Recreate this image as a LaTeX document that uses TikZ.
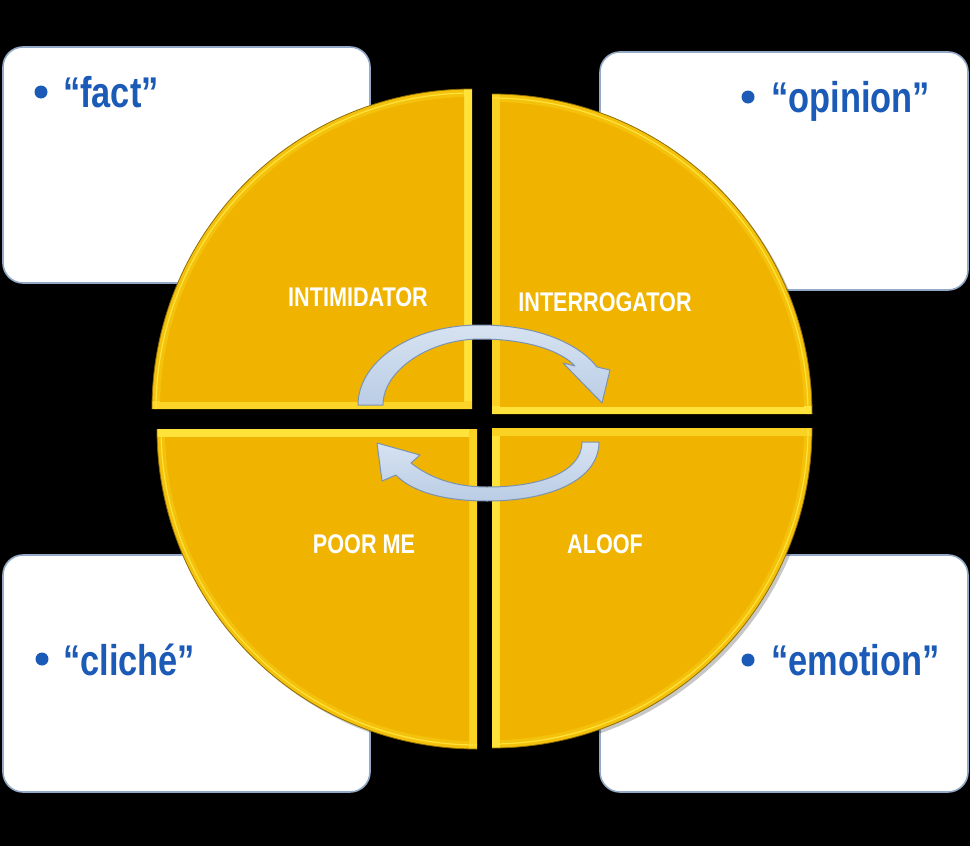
\documentclass[tikz,border=0pt]{standalone}
\usepackage{fontspec}
\setmainfont{Liberation Sans}
\newfontfamily\bulfont[FakeStretch=0.8]{Liberation Sans}
\newfontfamily\labfont[FakeStretch=0.8]{Liberation Sans}
\definecolor{goldmain}{HTML}{EFB300}
\definecolor{goldband}{HTML}{F4C20C}
\definecolor{goldbright}{HTML}{FFE23A}
\definecolor{goldedge}{HTML}{8F6C00}
\definecolor{boxedge}{HTML}{93A9C6}
\definecolor{bultext}{HTML}{1B5AB6}
\definecolor{arrowfill}{HTML}{BACDE5}
\definecolor{arrowlight}{HTML}{D6E2F1}
\definecolor{arrowedge}{HTML}{7C92B1}
\tikzset{
  boxshape/.style={draw=boxedge, line width=1.6pt, fill=white, rounded corners=20pt, inner sep=0pt},
  bultxt/.style={text=bultext, font=\bulfont\bfseries\fontsize{43}{48}\selectfont, inner sep=0pt, anchor=base west},
  buldot/.style={circle, fill=bultext, minimum size=13pt, inner sep=0pt},
  labtxt/.style={text=white, font=\labfont\bfseries\fontsize{27}{30}\selectfont, inner sep=0pt},
  arrowshape/.style={top color=arrowlight, bottom color=arrowfill, draw=arrowedge, line width=1pt, line join=round},
  qshadow/.style={fill=black, opacity=0.22},
}
\begin{document}
\begin{tikzpicture}[x=1pt,y=-1pt]
\fill[black] (0,0) rectangle (970,846);
\useasboundingbox (0,0) rectangle (970,846);

% corner boxes
\node[boxshape, minimum width=367pt, minimum height=236pt] (boxTL) at (186.5,165) {};
\node[boxshape, minimum width=368pt, minimum height=238pt] (boxTR) at (784,171) {};
\node[boxshape, minimum width=367pt, minimum height=237pt] (boxBL) at (186.5,673.5) {};
\node[boxshape, minimum width=368pt, minimum height=237pt] (boxBR) at (784,673.5) {};

% bullet texts
\node[buldot] (dotfact) at (41,92) {};
\node[bultxt] (fact) at (63,107) {“fact”};
\node[buldot] (dotopin) at (748,97) {};
\node[bultxt] (opinion) at (771,112) {“opinion”};
\node[buldot] (dotclic) at (42,659) {};
\node[bultxt] (cliche) at (63,675) {“cliché”};
\node[buldot] (dotemot) at (748,660) {};
\node[bultxt] (emotion) at (771,675) {“emotion”};

% shadows of quadrants
\fill[qshadow] (475,412) -- ++(-320,0) arc[start angle=180,end angle=270,radius=320] -- cycle;
\fill[qshadow] (495,417) -- ++(0,-320) arc[start angle=270,end angle=360,radius=320] -- cycle;
\fill[qshadow] (495,431) -- ++(320,0) arc[start angle=0,end angle=90,radius=320] -- cycle;
\fill[qshadow] (480,432) -- ++(0,320) arc[start angle=90,end angle=180,radius=320] -- cycle;

% quadrant TL, corner (472,409)
\begin{scope}
\clip (472,409) -- ++(-320,0) arc[start angle=180,end angle=270,radius=320] -- cycle;
\fill[goldband] (0,0) rectangle (970,846);
\fill[goldbright] (464,0) rectangle (472,409);
\fill[goldbright!60!goldband] (0,401) rectangle (472,409);
\draw[goldbright, line width=1.2pt] (472,409) ++(-316,0) arc[start angle=180,end angle=270,radius=316];
\begin{scope}
\clip (0,0) rectangle (464,401);
\fill[goldmain] (472,409) circle[radius=312];
\end{scope}
\end{scope}
\draw[goldedge, line width=0.8pt] (472,409) ++(-320,0) arc[start angle=180,end angle=270,radius=320];

% quadrant TR, corner (492,414)
\begin{scope}
\clip (492,414) -- ++(0,-320) arc[start angle=270,end angle=360,radius=320] -- cycle;
\fill[goldband] (0,0) rectangle (970,846);
\fill[goldbright!50!goldband] (492,0) rectangle (500,414);
\fill[goldbright] (492,406) rectangle (970,414);
\draw[goldbright, line width=1.2pt] (492,414) ++(0,-316) arc[start angle=270,end angle=360,radius=316];
\begin{scope}
\clip (500,0) rectangle (970,406);
\fill[goldmain] (492,414) circle[radius=312];
\end{scope}
\end{scope}
\draw[goldedge, line width=0.8pt] (492,414) ++(0,-320) arc[start angle=270,end angle=360,radius=320];

% quadrant BR, corner (492,428)
\begin{scope}
\clip (492,428) -- ++(320,0) arc[start angle=0,end angle=90,radius=320] -- cycle;
\fill[goldband] (0,0) rectangle (970,846);
\fill[goldbright] (492,428) rectangle (500,846);
\fill[goldbright!50!goldband] (492,428) rectangle (970,436);
\draw[goldbright, line width=1.2pt] (492,428) ++(316,0) arc[start angle=0,end angle=90,radius=316];
\begin{scope}
\clip (500,436) rectangle (970,846);
\fill[goldmain] (492,428) circle[radius=312];
\end{scope}
\end{scope}
\draw[goldedge, line width=0.8pt] (492,428) ++(320,0) arc[start angle=0,end angle=90,radius=320];

% quadrant BL, corner (477,429)
\begin{scope}
\clip (477,429) -- ++(0,320) arc[start angle=90,end angle=180,radius=320] -- cycle;
\fill[goldband] (0,0) rectangle (970,846);
\fill[goldbright] (0,429) rectangle (477,437);
\fill[goldbright!50!goldband] (469,429) rectangle (477,846);
\draw[goldbright, line width=1.2pt] (477,429) ++(0,316) arc[start angle=90,end angle=180,radius=316];
\begin{scope}
\clip (0,437) rectangle (469,846);
\fill[goldmain] (477,429) circle[radius=312];
\end{scope}
\end{scope}
\draw[goldedge, line width=0.8pt] (477,429) ++(0,320) arc[start angle=90,end angle=180,radius=320];

% labels
\node[labtxt] (intim) at (358,297) {INTIMIDATOR};
\node[labtxt] (interr) at (605,302) {INTERROGATOR};
\node[labtxt] (poorme) at (364,544) {POOR ME};
\node[labtxt] (aloof) at (605,544) {ALOOF};

% upper curved arrow (clockwise, towards right)
\coordinate (ua1) at (358,405);
\coordinate (ua2) at (383,405);
\coordinate (uatip) at (602,403);
\draw[arrowshape] (ua1) .. controls (358,362) and (410,325) .. (480,325)
  .. controls (540,325) and (580,345) .. (597,367)
  -- (610,370) -- (uatip) -- (563,363) -- (575,366)
  .. controls (560,350) and (525,339) .. (480,339)
  .. controls (430,339) and (383,370) .. (ua2) -- cycle;

% lower curved arrow (towards left)
\coordinate (la1) at (599,442);
\coordinate (la2) at (582,442);
\coordinate (latip) at (377,443);
\draw[arrowshape] (la1) .. controls (599,480) and (550,501) .. (487,501)
  .. controls (440,501) and (410,490) .. (396,475)
  -- (382,481) -- (latip) -- (420,455) -- (411,463)
  .. controls (430,478) and (455,487) .. (487,487)
  .. controls (545,487) and (582,470) .. (la2) -- cycle;
\end{tikzpicture}
\end{document}
